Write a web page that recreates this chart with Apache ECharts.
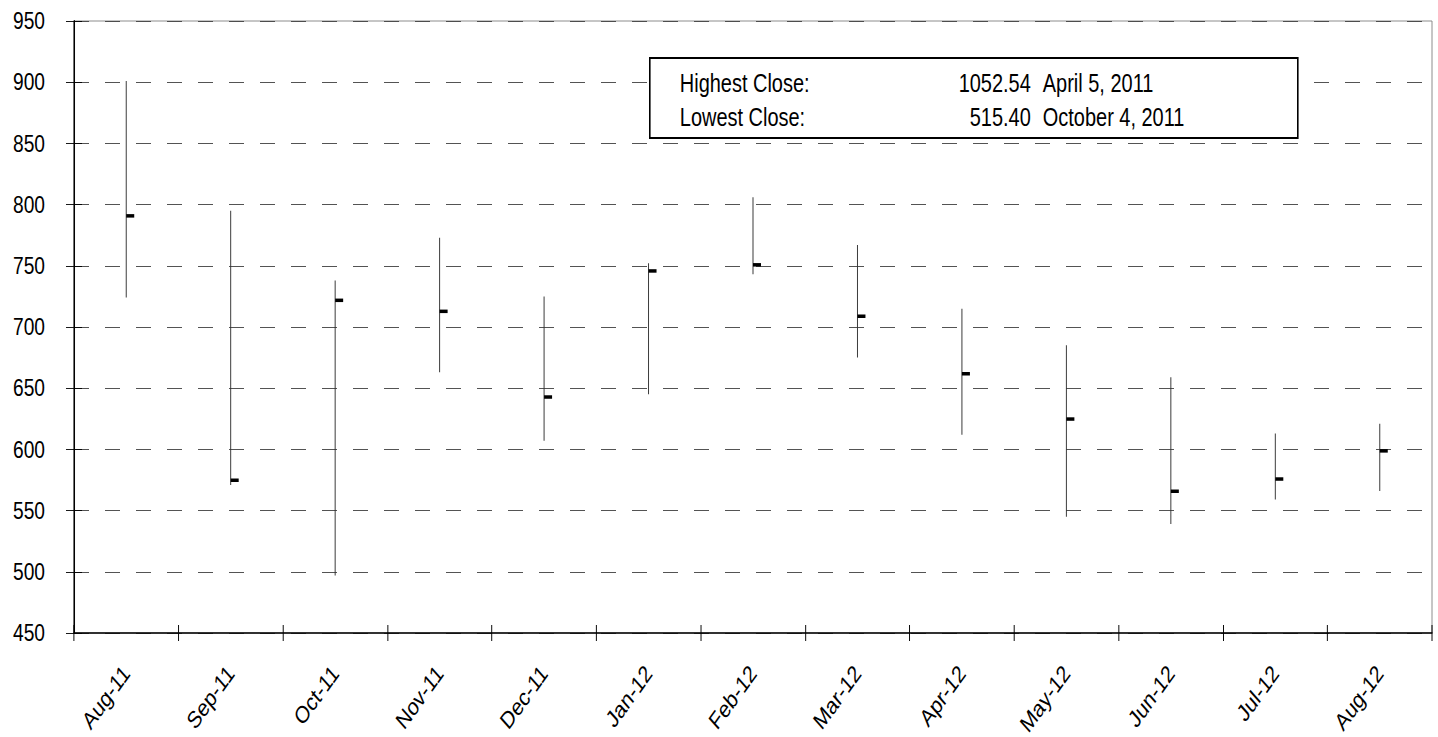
<!DOCTYPE html>
<html>
<head>
<meta charset="utf-8">
<script src="https://cdn.jsdelivr.net/npm/echarts@6/dist/echarts.min.js"></script>
<style>
html,body{margin:0;padding:0;background:#fff;overflow:hidden;width:1438px;height:737px;}
#wrap{width:1438px;height:737px;overflow:hidden;position:relative;}
#chart{width:1800px;height:737px;transform:scaleX(0.798889);transform-origin:0 0;position:absolute;left:0;top:0;}
</style>
</head>
<body>
<div id="wrap"><div id="chart"></div></div>
<script>
const categories = ['Aug-11','Sep-11','Oct-11','Nov-11','Dec-11','Jan-12','Feb-12','Mar-12','Apr-12','May-12','Jun-12','Jul-12','Aug-12'];
const highs  = [901, 795, 738, 773, 725, 752, 806, 767, 715, 685, 659, 613, 621];
const lows   = [724, 571, 497, 663, 607, 645, 743, 675, 612, 545, 539, 559, 566];
const closes = [791, 575, 722, 713, 643, 746, 751, 709, 662, 625, 566, 576, 599];
const yTicks = [450, 500, 550, 600, 650, 700, 750, 800, 850, 900, 950];

const noteRows = [
  ['Highest Close:', '1052.54', 'April 5, 2011'],
  ['Lowest Close:', '515.40', 'October 4, 2011']
];

// the chart is drawn in a wider space and squeezed horizontally (condensed look)
const S = 1438 / 1800;
const FONT = '"Liberation Sans", Arial, sans-serif';
const data = categories.map((c, i) => [i, highs[i], lows[i], closes[i]]);

const chart = echarts.init(document.getElementById('chart'), null, {renderer: 'svg', width: 1800, height: 737});

const noteChildren = [{
  type: 'rect', z: 100,
  shape: {x: 0, y: 0, width: 648 / S, height: 80},
  style: {fill: '#fff', stroke: '#000', lineWidth: 2}
}];
noteRows.forEach((r, k) => {
  const y = 26 + k * 34;
  noteChildren.push({type: 'text', z: 101, style: {x: 30 / S, y: y, text: r[0], font: '25px ' + FONT, fill: '#000', textVerticalAlign: 'middle'}});
  noteChildren.push({type: 'text', z: 101, style: {x: 381 / S, y: y, text: r[1], font: '25px ' + FONT, fill: '#000', textAlign: 'right', textVerticalAlign: 'middle'}});
  noteChildren.push({type: 'text', z: 101, style: {x: 393 / S, y: y, text: r[2], font: '25px ' + FONT, fill: '#000', textVerticalAlign: 'middle'}});
});

chart.setOption({
  animation: false,
  backgroundColor: '#fff',
  grid: {left: 74 / S, right: 6 / S, top: 21, bottom: 104, show: true, borderColor: '#808080', borderWidth: 1, outerBoundsMode: 'none', containLabel: false},
  xAxis: [{
    type: 'category', data: categories, boundaryGap: true,
    axisLine: {lineStyle: {color: '#000', width: 1.5}},
    axisTick: {show: true, length: 8, interval: 0, lineStyle: {color: '#000', width: 1.2}},
    axisLabel: {rotate: 48, interval: 0, margin: 36, fontSize: 24, fontFamily: FONT, color: '#000'},
    splitLine: {show: false}
  }, {
    type: 'category', data: categories, boundaryGap: true, position: 'bottom',
    axisLine: {show: false},
    axisTick: {show: true, inside: true, length: 8, interval: 0, lineStyle: {color: '#000', width: 1.2}},
    axisLabel: {show: false}, splitLine: {show: false}
  }],
  yAxis: [{
    type: 'value', min: 450, max: 950, interval: 50,
    axisLine: {show: true, lineStyle: {color: '#000', width: 1.8}},
    axisTick: {show: true, length: 8 / S, lineStyle: {color: '#000'}},
    axisLabel: {margin: 29 / S, fontSize: 24, fontFamily: FONT, color: '#000',
      formatter: v => yTicks.includes(v) ? String(v) : ''},
    splitLine: {show: true, lineStyle: {color: '#404040', width: 1, type: [15 / S, 16 / S]}}
  }, {
    type: 'value', min: 450, max: 950, interval: 50, position: 'left',
    axisLine: {show: false},
    axisTick: {show: true, inside: true, length: 8 / S, lineStyle: {color: '#000'}},
    axisLabel: {show: false}, splitLine: {show: false}
  }],
  series: [{
    type: 'custom',
    data: data,
    encode: {x: 0, y: [1, 2, 3]},
    renderItem: function (params, api) {
      const i = api.value(0);
      const top = api.coord([i, api.value(1)]);
      const bot = api.coord([i, api.value(2)]);
      const cl = api.coord([i, api.value(3)]);
      const x = top[0];
      return {
        type: 'group',
        children: [{
          type: 'line',
          shape: {x1: x, y1: top[1], x2: x, y2: bot[1]},
          style: {stroke: '#333', lineWidth: 1.2}
        }, {
          type: 'rect',
          shape: {x: x, y: cl[1] - 1.5, width: 8 / S, height: 3.5},
          style: {fill: '#000'}
        }]
      };
    }
  }],
  graphic: [{
    type: 'group', left: 649 / S, top: 57, z: 100,
    children: noteChildren
  }]
});
</script>
</body>
</html>
